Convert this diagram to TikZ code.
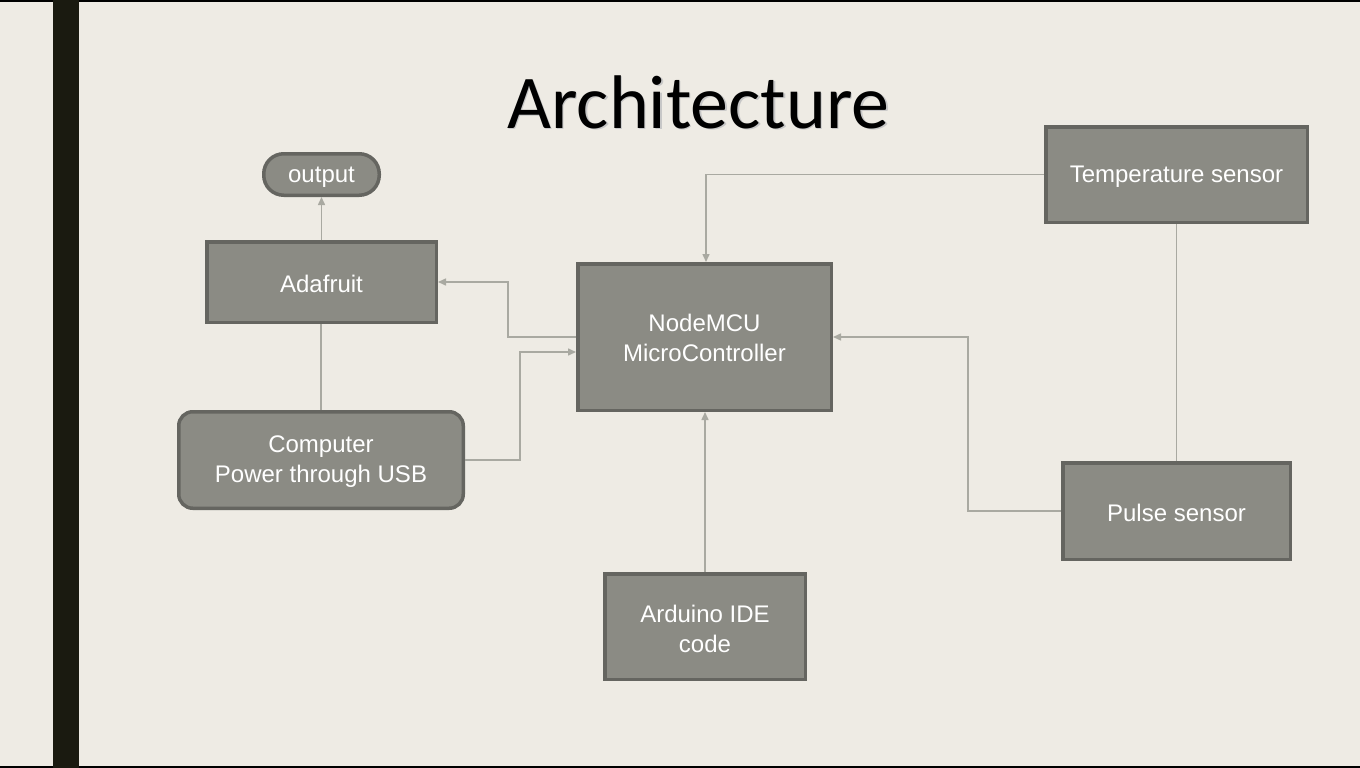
\documentclass[tikz,border=0pt]{standalone}
\usepackage{fontspec}
\setmainfont{Liberation Sans}
\newfontfamily\titlefont{Carlito}
\usetikzlibrary{arrows.meta}
\definecolor{bgc}{HTML}{EEEBE4}
\definecolor{barc}{HTML}{1A1A10}
\definecolor{boxfill}{HTML}{8B8B84}
\definecolor{boxline}{HTML}{656560}
\definecolor{linkc}{HTML}{A9A9A1}
\tikzset{
  blk/.style={draw=boxline, line width=3.5pt, fill=boxfill, inner sep=0pt},
  lbl/.style={text=white, align=center, inner sep=0pt, font=\fontsize{24}{30}\selectfont},
  link/.style={draw=linkc, line width=1.5pt},
  arr/.style={link, -{Triangle[length=8pt,width=7pt]}},
}
\begin{document}
\begin{tikzpicture}[x=1pt,y=-1pt]
\fill[bgc] (0,0) rectangle (1360,768);
\useasboundingbox (0,0) rectangle (1360,768);
\fill[black] (0,0) rectangle (1360,2);
\fill[black] (0,766) rectangle (1360,768);
\fill[barc] (53,0) rectangle (79,768);
% title
\node[anchor=base, text=black!22, font=\titlefont\fontsize{76}{80}\selectfont] at (700,129.5) {Architecture};
\node[anchor=base, text=black, font=\titlefont\fontsize{76}{80}\selectfont] (title) at (698.5,128) {Architecture};
% boxes
\node[blk, rounded corners=20pt, minimum width=115.5pt, minimum height=41.5pt] (out) at (321.5,174.5) {};
\node[blk, minimum width=229.5pt, minimum height=80.5pt] (ada) at (321.5,282) {};
\node[blk, rounded corners=14pt, minimum width=284.5pt, minimum height=96.5pt] (pc) at (321,460) {};
\node[blk, minimum width=253.5pt, minimum height=146.5pt] (mcu) at (704.5,337) {};
\node[blk, minimum width=261.5pt, minimum height=95.5pt] (temp) at (1176.5,174.5) {};
\node[blk, minimum width=227.5pt, minimum height=96.5pt] (pulse) at (1176.5,511) {};
\node[blk, minimum width=200.5pt, minimum height=105.5pt] (ide) at (705,626.5) {};
% labels
\node[lbl] (outt) at ([yshift=-3pt]out.center) {output};
\node[lbl] (adat) at ([yshift=-2pt]ada.center) {Adafruit};
\node[lbl] (pct) at ([yshift=-2pt]pc.center) {Computer\\Power through USB};
\node[lbl] (mcut) at ([yshift=-1pt]mcu.center) {NodeMCU\\MicroController};
\node[lbl] (tempt) at ([yshift=-2pt]temp.center) {Temperature sensor};
\node[lbl] (pulset) at ([yshift=-2pt]pulse.center) {Pulse sensor};
\node[lbl] (idet) at ([yshift=-2pt]ide.center) {Arduino IDE\\code};
% connectors
\draw[arr] (ada.north) -- (out.south);
\draw[link] (pc.north) -- (pc.north |- ada.south);
\draw[arr] (mcu.west) -| (508,282) -- (ada.east);
\draw[arr] (pc.east) -| (520,352) -- ([yshift=-15pt]mcu.west);
\draw[arr] (temp.west) -| ([xshift=1.5pt]mcu.north);
\draw[arr] (pulse.west) -| (968,337) -- (mcu.east);
\draw[link] (temp.south) -- (pulse.north);
\draw[arr] (ide.north) -- ([xshift=0.5pt]mcu.south);
\end{tikzpicture}
\end{document}
